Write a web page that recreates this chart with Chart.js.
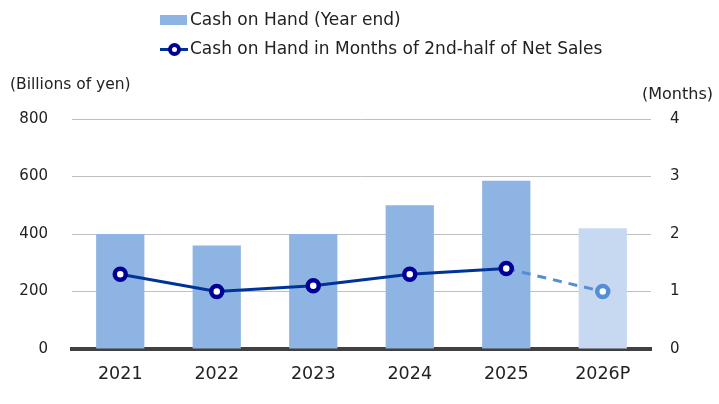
<!DOCTYPE html>
<html>
<head>
<meta charset="utf-8">
<script src="https://cdn.jsdelivr.net/npm/chart.js@4"></script>
<style>
  body { margin: 0; background: #fff; font-family: "DejaVu Sans", sans-serif; color: #222; }
  #wrap { position: relative; width: 719px; height: 404px; }
  .legend { position: absolute; left: 160px; font-size: 17px; line-height: 20px; white-space: nowrap; }
  .legend .box { display: inline-block; width: 27px; height: 10px; background: #8EB4E3; vertical-align: middle; margin-right: 3px; }
  .legend .ln { display: inline-block; position: relative; width: 28px; height: 14px; vertical-align: middle; margin-right: 2px; }
  .legend .ln:before { content: ""; position: absolute; left: 0; right: 0; top: 6px; height: 3px; background: #003399; }
  .legend .ln:after { content: ""; position: absolute; left: 8px; top: 1px; width: 5px; height: 5px; border: 4px solid #000099; border-radius: 50%; background: #fff; }
  .unit { position: absolute; white-space: nowrap; }
</style>
</head>
<body>
<div id="wrap">
  <canvas id="cashChart"></canvas>
  <div class="legend" style="top: 9px;"><span class="box"></span>Cash on Hand (Year end)</div>
  <div class="legend" style="top: 38px;"><span class="ln"></span>Cash on Hand in Months of 2nd-half of Net Sales</div>
  <div class="unit" style="left: 10px; top: 75px; font-size: 15.5px;">(Billions of yen)</div>
  <div class="unit" style="left: 642px; top: 84px; font-size: 16px;">(Months)</div>
</div>
<script>
const years = ["2021", "2022", "2023", "2024", "2025", "2026P"];
const cashOnHand = [400, 360, 400, 500, 585, 420];           // billions of yen
const cashMonths = [1.3, 1.0, 1.1, 1.3, 1.4, 1.0];           // months
const yenTicks = [0, 200, 400, 600, 800];
const monthTicks = [0, 1, 2, 3, 4];

const barColors = ["#8EB4E3", "#8EB4E3", "#8EB4E3", "#8EB4E3", "#8EB4E3", "#C6D9F1"];
const markerColors = ["#000099", "#000099", "#000099", "#000099", "#000099", "#558ED5"];

const ctx = document.getElementById("cashChart").getContext("2d");

new Chart(ctx, {
    data: {
        labels: years,
        datasets: [{
            type: "line",
            data: cashMonths,
            yAxisID: "yR",
            borderColor: "#003399",
            borderWidth: 3,
            pointRadius: 5.5,
            pointBorderWidth: 4.5,
            pointBackgroundColor: "#ffffff",
            pointBorderColor: markerColors,
            segment: {
                // last segment is the forecast
                borderColor: c => c.p1DataIndex === years.length - 1 ? "#558ED5" : undefined,
                borderDash: c => c.p1DataIndex === years.length - 1 ? [9, 7] : undefined
            }
        }, {
            type: "bar",
            data: cashOnHand,
            yAxisID: "yL",
            backgroundColor: barColors,
            barPercentage: 0.5,
            categoryPercentage: 1.0
        }]
    },
    options: {
        responsive: true,
        maintainAspectRatio: false,
        animation: false,
        layout: { padding: { top: 119, left: 0, right: 0, bottom: 0 } },
        plugins: { legend: { display: false }, tooltip: { enabled: false } },
        scales: {
            x: {
                offset: true,
                grid: { display: false, drawTicks: false },
                border: { display: true, color: "#404040", width: 4 },
                ticks: { color: "#222", padding: 15, font: { family: "DejaVu Sans", size: 17.5 } },
                afterFit: s => { s.height = 55; }
            },
            yL: {
                position: "left",
                min: 0,
                max: 800,
                afterBuildTicks: s => { s.ticks = yenTicks.map(v => ({ value: v })); },
                grid: { color: "#BFBFBF", lineWidth: 1, drawTicks: false },
                border: { display: false },
                ticks: { color: "#222", padding: 24, font: { family: "DejaVu Sans", size: 15 } },
                afterFit: s => { s.width = 72; }
            },
            yR: {
                position: "right",
                min: 0,
                max: 4,
                afterBuildTicks: s => { s.ticks = monthTicks.map(v => ({ value: v })); },
                grid: { display: false, drawTicks: false },
                border: { display: false },
                ticks: { color: "#222", padding: 19, font: { family: "DejaVu Sans", size: 15 } },
                afterFit: s => { s.width = 68; }
            }
        }
    }
});
</script>
</body>
</html>
